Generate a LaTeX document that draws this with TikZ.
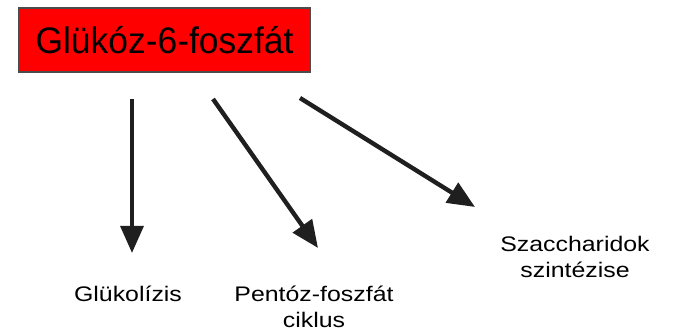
\documentclass[tikz,border=0pt]{standalone}
\usepackage{fontspec}
\setmainfont{Liberation Sans}
\newfontfamily\titlefont[FakeStretch=0.96]{Liberation Sans}
\newfontfamily\labelfont[FakeStretch=1.18]{Liberation Sans}
\usetikzlibrary{arrows.meta,positioning}

\tikzset{
  pathway/.style={font=\labelfont\fontsize{12}{14.8}\selectfont, align=center, inner sep=0pt},
  flow/.style={draw=black!88, line width=2.5pt, -{Triangle[length=15.5pt,width=13pt]}}
}

\begin{document}
\begin{tikzpicture}[x=0.02cm, y=-0.02cm, line join=miter]

\useasboundingbox (0,0) rectangle (673,333);

% kiindulo vegyulet
\node[draw=black!70, line width=0.6pt, fill=red, minimum width=291*0.02cm, minimum height=64*0.02cm,
      font=\titlefont\fontsize{21}{25}\selectfont, inner sep=0pt] (gfp) at (164.5,40) {Gl\"uk\'oz-6-foszf\'at};

% utvonalak (base = utolso sor alapvonala)
\node[pathway, anchor=base] (glik) at (128,302) {Gl\"ukol\'izis};
\node[pathway, anchor=base] (pfc) at (314,328) {Pent\'oz-foszf\'at\\ciklus};
\node[pathway, anchor=base] (szsz) at (575,278) {Szaccharidok\\szint\'ezise};

\coordinate (a1) at (132,99);  \coordinate (b1) at (132,253);
\coordinate (a2) at (213,99);  \coordinate (b2) at (318,248);
\coordinate (a3) at (300,98);  \coordinate (b3) at (475,207);

\draw[flow] (a1) -- (b1);
\draw[flow] (a2) -- (b2);
\draw[flow] (a3) -- (b3);

\end{tikzpicture}
\end{document}
